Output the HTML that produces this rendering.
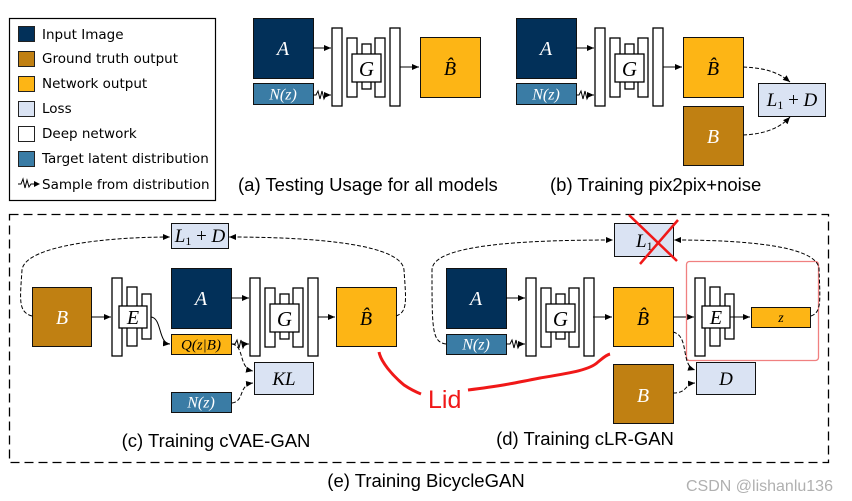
<!DOCTYPE html>
<html><head><meta charset="utf-8"><style>
html,body{margin:0;padding:0;background:#fff;}
svg{display:block;}
.s{font-family:"Liberation Sans",sans-serif;}
.d{font-family:"DejaVu Sans",sans-serif;}
.m{font-family:"Liberation Serif",serif;font-style:italic;}
</style></head><body>
<svg width="852" height="501" viewBox="0 0 852 501" xmlns="http://www.w3.org/2000/svg">
<defs>
<marker id="ah" markerWidth="8" markerHeight="8" refX="7" refY="4" orient="auto" markerUnits="userSpaceOnUse"><path d="M0,1 L7,4 L0,7 z" fill="#000"/></marker>
<g id="G">
<rect x="332" y="28" width="10" height="78" fill="#fff" stroke="#000" stroke-width="1.3"/>
<rect x="347" y="38" width="10" height="59" fill="#fff" stroke="#000" stroke-width="1.3"/>
<rect x="362" y="44" width="9" height="45" fill="#fff" stroke="#000" stroke-width="1.3"/>
<rect x="375" y="38" width="10" height="59" fill="#fff" stroke="#000" stroke-width="1.3"/>
<rect x="390" y="28" width="10" height="78" fill="#fff" stroke="#000" stroke-width="1.3"/>
<rect x="352" y="54" width="29" height="28" fill="#fff" stroke="#000" stroke-width="1.3"/>
<text x="366.5" y="76" font-size="21" text-anchor="middle" class="m">G</text>
</g>
<g id="E">
<rect x="112" y="278" width="10" height="78" fill="#fff" stroke="#000" stroke-width="1.3"/>
<rect x="127" y="287" width="10" height="59" fill="#fff" stroke="#000" stroke-width="1.3"/>
<rect x="142" y="294" width="9" height="45" fill="#fff" stroke="#000" stroke-width="1.3"/>
<rect x="119" y="306" width="28" height="22" fill="#fff" stroke="#000" stroke-width="1.3"/>
<text x="133" y="324" font-size="20" text-anchor="middle" class="m">E</text>
</g>
</defs>

<!-- Legend -->
<rect x="9.5" y="18.5" width="206" height="182" fill="#fff" stroke="#000" stroke-width="1.2"/>
<g stroke="#222" stroke-width="1">
<rect x="18.5" y="26.5" width="16" height="15" fill="#023059"/>
<rect x="18.5" y="51.5" width="16" height="15" fill="#c08012"/>
<rect x="18.5" y="76.5" width="16" height="15" fill="#fdb515"/>
<rect x="18.5" y="101.5" width="16" height="15" fill="#dae3f3"/>
<rect x="18.5" y="126.5" width="16" height="15" fill="#fff"/>
<rect x="18.5" y="151.5" width="16" height="15" fill="#3a7ca5"/>
</g>
<g class="d" font-size="13.5" fill="#000">
<text x="42" y="39">Input Image</text>
<text x="42" y="63">Ground truth output</text>
<text x="42" y="88">Network output</text>
<text x="42" y="113">Loss</text>
<text x="42" y="138">Deep network</text>
<text x="42" y="163">Target latent distribution</text>
<text x="42" y="189">Sample from distribution</text>
</g>
<path d="M18,184 L21,184 L23,179 L25,188 L27,180 L29,187 L31,184 L35,184" fill="none" stroke="#000" stroke-width="1"/>
<path d="M34,181 L40,184 L34,187z" fill="#000"/>

<!-- (a) -->
<rect x="253.5" y="18.5" width="60" height="60" fill="#023059" stroke="#111"/>
<text x="283" y="55" font-size="20" fill="#fff" text-anchor="middle" class="m">A</text>
<rect x="253.5" y="83.5" width="60" height="21" fill="#3a7ca5" stroke="#111"/>
<text x="283" y="99.5" font-size="16" fill="#fff" text-anchor="middle" class="m">N(z)</text>
<use href="#G"/>
<line x1="313" y1="48" x2="331" y2="48" stroke="#000" marker-end="url(#ah)"/>
<path d="M313,95 L316,95 L318,91 L320,99 L322,91 L324,99 L326,95 L331,95" fill="none" stroke="#000" marker-end="url(#ah)"/>
<line x1="400" y1="67" x2="419" y2="67" stroke="#000" marker-end="url(#ah)"/>
<rect x="420.5" y="37.5" width="60" height="60" fill="#fdb515" stroke="#111"/>
<text x="450" y="75" font-size="20" text-anchor="middle" class="m">B̂</text>
<text x="238" y="191" font-size="18.5" class="s">(a) Testing Usage for all models</text>

<!-- (b) -->
<rect x="516.5" y="18.5" width="60" height="60" fill="#023059" stroke="#111"/>
<text x="546" y="55" font-size="20" fill="#fff" text-anchor="middle" class="m">A</text>
<rect x="516.5" y="83.5" width="60" height="21" fill="#3a7ca5" stroke="#111"/>
<text x="546" y="99.5" font-size="16" fill="#fff" text-anchor="middle" class="m">N(z)</text>
<use href="#G" transform="translate(263,0)"/>
<line x1="576" y1="48" x2="594" y2="48" stroke="#000" marker-end="url(#ah)"/>
<path d="M576,95 L579,95 L581,91 L583,99 L585,91 L587,99 L589,95 L594,95" fill="none" stroke="#000" marker-end="url(#ah)"/>
<line x1="663" y1="67" x2="682" y2="67" stroke="#000" marker-end="url(#ah)"/>
<rect x="683.5" y="37.5" width="60" height="60" fill="#fdb515" stroke="#111"/>
<text x="713" y="75" font-size="20" text-anchor="middle" class="m">B̂</text>
<rect x="683.5" y="106.5" width="60" height="59" fill="#c08012" stroke="#111"/>
<text x="713" y="143" font-size="20" fill="#fff" text-anchor="middle" class="m">B</text>
<rect x="758.5" y="83.5" width="67" height="33" fill="#dae3f3" stroke="#111"/>
<text x="792" y="106" font-size="19" text-anchor="middle" class="m">L<tspan font-size="12" dy="3" font-style="normal">1</tspan><tspan dy="-3" font-style="normal"> + </tspan>D</text>
<path d="M743,67 C765,68 778,72 790,82" fill="none" stroke="#000" stroke-dasharray="4,2" marker-end="url(#ah)"/>
<path d="M743,135 C765,134 780,128 790,117" fill="none" stroke="#000" stroke-dasharray="4,2" marker-end="url(#ah)"/>
<text x="550" y="191" font-size="18.5" class="s">(b) Training pix2pix+noise</text>

<!-- dashed frame -->
<rect x="9.5" y="214.5" width="819" height="248" fill="none" stroke="#000" stroke-width="1.3" stroke-dasharray="9,5"/>

<!-- (c) -->
<rect x="171.5" y="223.5" width="57" height="25" fill="#dae3f3" stroke="#111"/>
<text x="200" y="242" font-size="19" text-anchor="middle" class="m">L<tspan font-size="12" dy="3" font-style="normal">1</tspan><tspan dy="-3" font-style="normal"> + </tspan>D</text>
<rect x="32.5" y="287.5" width="59" height="59" fill="#c08012" stroke="#111"/>
<text x="62" y="324" font-size="20" fill="#fff" text-anchor="middle" class="m">B</text>
<use href="#E"/>
<line x1="91" y1="317" x2="111" y2="317" stroke="#000" marker-end="url(#ah)"/>
<rect x="171.5" y="268.5" width="60" height="60" fill="#023059" stroke="#111"/>
<text x="201" y="305" font-size="20" fill="#fff" text-anchor="middle" class="m">A</text>
<rect x="171.5" y="334.5" width="60" height="20" fill="#fdb515" stroke="#111"/>
<text x="201" y="349.5" font-size="15" text-anchor="middle" class="m">Q(z|B)</text>
<path d="M151,317 C162,318 158,343 170,344" fill="none" stroke="#000" marker-end="url(#ah)"/>
<use href="#G" transform="translate(-82,250)"/>
<line x1="231" y1="298" x2="249" y2="298" stroke="#000" marker-end="url(#ah)"/>
<path d="M231,344 L235,344 L237,340 L239,348 L241,340 L243,348 L245,344 L249,344" fill="none" stroke="#000" marker-end="url(#ah)"/>
<line x1="318" y1="317" x2="335" y2="317" stroke="#000" marker-end="url(#ah)"/>
<rect x="336.5" y="287.5" width="60" height="59" fill="#fdb515" stroke="#111"/>
<text x="366" y="325" font-size="20" text-anchor="middle" class="m">B̂</text>
<rect x="254.5" y="362.5" width="59" height="32" fill="#dae3f3" stroke="#111"/>
<text x="284" y="385" font-size="19" text-anchor="middle" class="m">KL</text>
<rect x="171.5" y="392.5" width="60" height="20" fill="#3a7ca5" stroke="#111"/>
<text x="201" y="407.5" font-size="16" fill="#fff" text-anchor="middle" class="m">N(z)</text>
<path d="M232,344 C245,346 238,368 253,371" fill="none" stroke="#000" stroke-dasharray="4,2" marker-end="url(#ah)"/>
<path d="M232,403 C245,401 238,385 253,383" fill="none" stroke="#000" stroke-dasharray="4,2" marker-end="url(#ah)"/>
<path d="M32,316 C18,312 20,300 22,270 C25,245 110,237 170,237" fill="none" stroke="#000" stroke-dasharray="4,2" marker-end="url(#ah)"/>
<path d="M396,316 C408,312 406,300 404,270 C402,245 320,237 229,237" fill="none" stroke="#000" stroke-dasharray="4,2" marker-end="url(#ah)"/>
<text x="216" y="447" font-size="18.5" text-anchor="middle" class="s">(c) Training cVAE-GAN</text>

<!-- (d) -->
<rect x="614.5" y="223.5" width="59" height="33" fill="#dae3f3" stroke="#111"/>
<text x="636" y="247" font-size="19" class="m">L<tspan font-size="12" dy="3" font-style="normal">1</tspan></text>
<rect x="446.5" y="268.5" width="60" height="60" fill="#023059" stroke="#111"/>
<text x="476" y="305" font-size="20" fill="#fff" text-anchor="middle" class="m">A</text>
<rect x="446.5" y="334.5" width="60" height="20" fill="#3a7ca5" stroke="#111"/>
<text x="476" y="349.5" font-size="16" fill="#fff" text-anchor="middle" class="m">N(z)</text>
<use href="#G" transform="translate(194,250)"/>
<line x1="506" y1="298" x2="525" y2="298" stroke="#000" marker-end="url(#ah)"/>
<path d="M506,344 L510,344 L512,340 L514,348 L516,340 L518,348 L520,344 L525,344" fill="none" stroke="#000" marker-end="url(#ah)"/>
<line x1="593" y1="317" x2="612" y2="317" stroke="#000" marker-end="url(#ah)"/>
<rect x="613.5" y="287.5" width="60" height="59" fill="#fdb515" stroke="#111"/>
<text x="643" y="325" font-size="20" text-anchor="middle" class="m">B̂</text>
<use href="#E" transform="translate(583,0)"/>
<line x1="673" y1="317" x2="694" y2="317" stroke="#000" marker-end="url(#ah)"/>
<line x1="730" y1="317" x2="750" y2="317" stroke="#000" marker-end="url(#ah)"/>
<rect x="751.5" y="307.5" width="59" height="20" fill="#fdb515" stroke="#111"/>
<text x="781" y="322" font-size="14" text-anchor="middle" class="m">z</text>
<rect x="686.5" y="261.5" width="132" height="99" rx="3" fill="none" stroke="#f08080" stroke-width="1.3"/>
<rect x="696.5" y="362.5" width="59" height="32" fill="#dae3f3" stroke="#111"/>
<text x="726" y="385" font-size="19" text-anchor="middle" class="m">D</text>
<rect x="613.5" y="364.5" width="60" height="59" fill="#c08012" stroke="#111"/>
<text x="643" y="402" font-size="20" fill="#fff" text-anchor="middle" class="m">B</text>
<path d="M673,332 C690,336 680,365 695,370" fill="none" stroke="#000" stroke-dasharray="4,2" marker-end="url(#ah)"/>
<path d="M673,393 C688,393 684,384 695,383" fill="none" stroke="#000" stroke-dasharray="4,2" marker-end="url(#ah)"/>
<path d="M446,344 C432,342 432,330 432,270 C432,245 520,240 613,240" fill="none" stroke="#000" stroke-dasharray="4,2" marker-end="url(#ah)"/>
<path d="M811,316 C822,312 820,300 819,268 C815,245 740,240 674,240" fill="none" stroke="#000" stroke-dasharray="4,2" marker-end="url(#ah)"/>
<text x="585" y="445" font-size="18.5" text-anchor="middle" class="s">(d) Training cLR-GAN</text>

<!-- red annotations -->
<line x1="629" y1="215" x2="677" y2="261" stroke="#f01818" stroke-width="2.5"/>
<line x1="678" y1="220" x2="640" y2="264" stroke="#f01818" stroke-width="2.5"/>
<path d="M379,352 C381,362 392,375 404,385 C410,389 416,392 421,394" fill="none" stroke="#f01818" stroke-width="3"/>
<path d="M468,390 C500,386 510,384 540,378 C570,373 590,370 598,362 C603,358 606,355 610,354" fill="none" stroke="#f01818" stroke-width="3"/>
<text x="428" y="408" font-size="25" fill="#f01818" class="s">Lid</text>

<text x="426" y="487" font-size="18.5" text-anchor="middle" class="s">(e) Training BicycleGAN</text>
<text x="686" y="491" font-size="16" fill="#b0b0b0" class="s">CSDN @lishanlu136</text>
</svg>
</body></html>
